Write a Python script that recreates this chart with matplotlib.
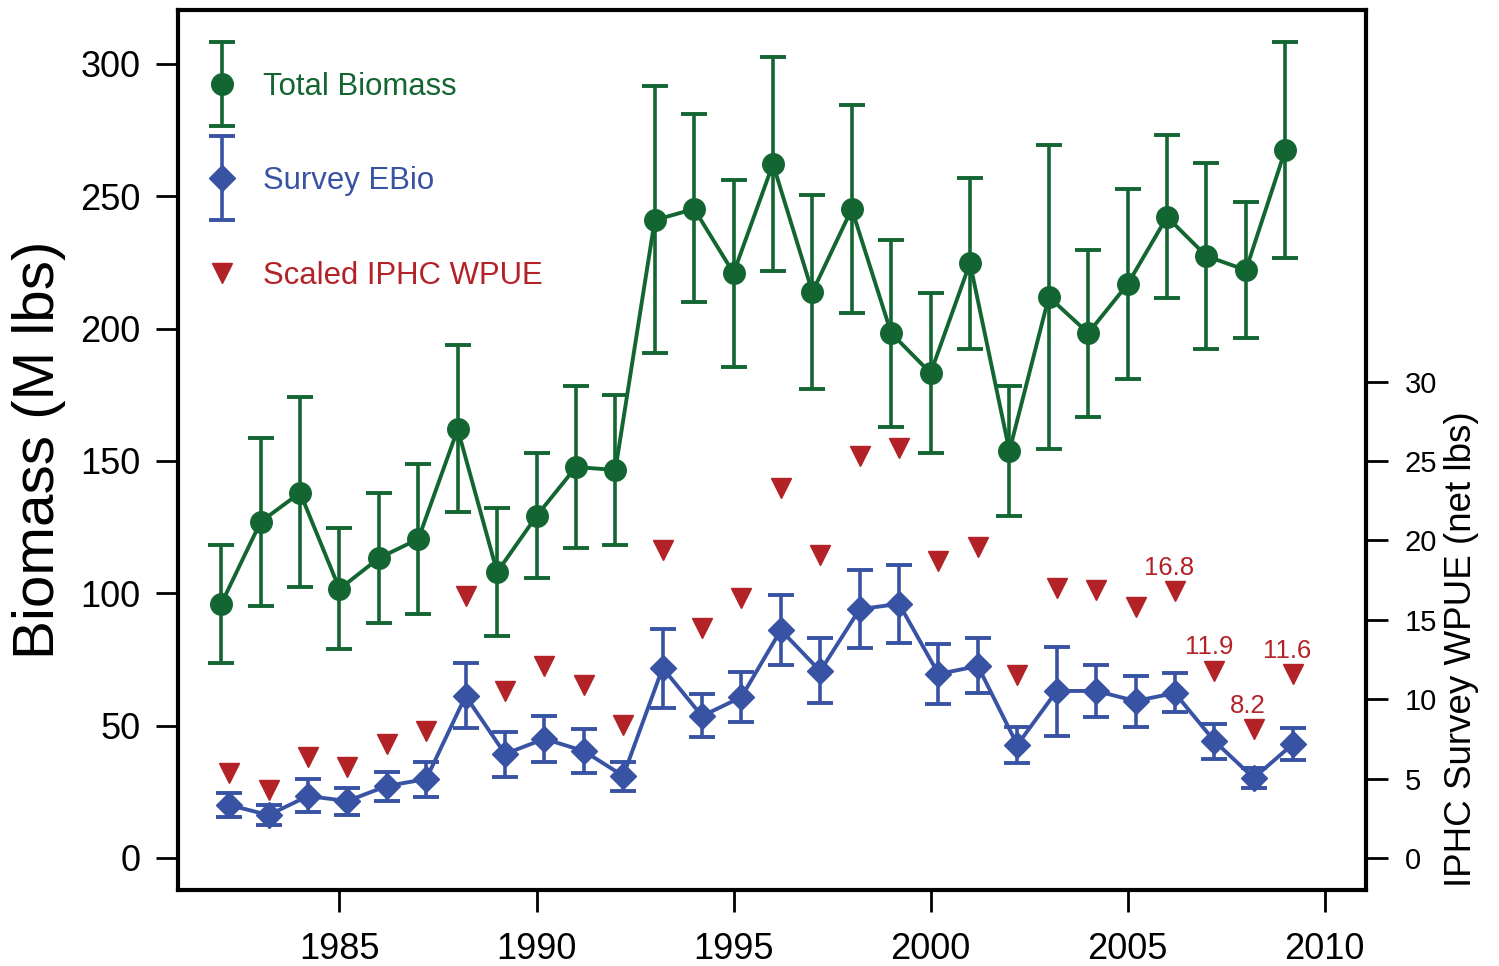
import matplotlib
matplotlib.use("Agg")
import matplotlib.pyplot as plt
from matplotlib.container import ErrorbarContainer
from matplotlib.legend_handler import HandlerErrorbar
import numpy as np

plt.rcParams['font.family'] = ['Liberation Sans', 'DejaVu Sans']

years = [1982, 1983, 1984, 1985, 1986, 1987, 1988, 1989, 1990, 1991,
         1992, 1993, 1994, 1995, 1996, 1997, 1998, 1999, 2000, 2001,
         2002, 2003, 2004, 2005, 2006, 2007, 2008, 2009]

total_biomass = [96, 127, 138, 101.6, 113.3, 120.5, 162, 108, 129.2, 147.7,
                 146.6, 241, 245.2, 221, 262.2, 213.8, 245.2, 198.3, 183.2, 224.8,
                 153.8, 212, 198.3, 216.8, 242.2, 227.4, 222.1, 267.5]
total_upper = [118.2, 158.7, 174.2, 124.7, 137.9, 148.8, 193.8, 132.2, 153, 178.3,
               174.9, 291.6, 281, 256, 302.6, 250.5, 284.5, 233.5, 213.5, 256.9,
               178.3, 269.4, 229.7, 252.7, 273.1, 262.6, 247.8, 308.3]
total_lower = [73.7, 95.2, 102.4, 79, 88.8, 92.2, 130.7, 83.9, 105.8, 117.1,
               118.2, 190.8, 210, 185.5, 221.8, 177.2, 205.9, 162.8, 153, 192.3,
               129.2, 154.5, 166.6, 181, 211.6, 192.3, 196.4, 226.7]

survey_ebio = [20, 16.2, 23.4, 21.5, 27.2, 29.8, 61.2, 39.3, 45, 40.4,
               31, 71.8, 53.6, 60.8, 86.1, 70.6, 94, 96, 69.5, 72.5,
               42.7, 63.1, 63.1, 59.3, 62.3, 44.2, 30.2, 43.1]
survey_upper = [24.6, 20, 29.8, 26.4, 32.5, 36.3, 73.7, 47.6, 53.6, 48.7,
                36.3, 86.5, 61.8, 70.1, 99.4, 83.1, 108.8, 110.6, 80.9, 83.1,
                49.5, 79.7, 72.9, 68.7, 69.8, 50.6, 34, 49.1]
survey_lower = [15.5, 12.5, 17.4, 16.3, 21.5, 23.1, 49.1, 30.6, 36.3, 32.1,
                25.3, 56.7, 45.7, 51.4, 73, 58.6, 79.3, 81.2, 58.2, 62.3,
                35.9, 46.1, 53.2, 49.5, 55, 37.4, 26.4, 37]

iphc_wpue = [5.35, 4.3, 6.35, 5.7, 7.2, 8.0, 16.5, 10.5, 12.1, 10.9,
             8.4, 19.4, 14.5, 16.4, 23.3, 19.1, 25.3, 25.8, 18.7, 19.6,
             11.5, 17.0, 16.9, 15.8, 16.8, 11.8, 8.1, 11.6]

label_years = [2006, 2007, 2008, 2009]
label_values = [16.8, 11.8, 8.1, 11.6]
label_texts = ["16.8", "11.9", "8.2", "11.6"]

xticks = [1985, 1990, 1995, 2000, 2005, 2010]
left_ticks = [0, 50, 100, 150, 200, 250, 300]
right_ticks = [0, 5, 10, 15, 20, 25, 30]

green = '#136632'
blue = '#3953A4'
red = '#B22227'
offset = 0.2

fig = plt.figure(figsize=(14.99, 9.66), dpi=100)
ax = fig.add_axes([0.1187, 0.0787, 0.7926, 0.911])
ax2 = ax.twinx()

yrs = np.array(years, dtype=float)
tb = np.array(total_biomass)
se = np.array(survey_ebio)

h_tot = ax.errorbar(yrs, tb,
                    yerr=[tb - np.array(total_lower), np.array(total_upper) - tb],
                    fmt='-o', color=green, lw=2.8, ms=15.5, elinewidth=2.6,
                    capsize=9.5, capthick=2.8, label='Total Biomass', zorder=3)
h_srv = ax.errorbar(yrs + offset, se,
                    yerr=[se - np.array(survey_lower), np.array(survey_upper) - se],
                    fmt='-D', color=blue, lw=2.8, ms=13.5, elinewidth=2.6,
                    capsize=9.5, capthick=2.8, label='Survey EBio', zorder=3)
h_iphc, = ax2.plot(yrs + offset, iphc_wpue, linestyle='none', marker='v',
                   color=red, ms=14.5, label='Scaled IPHC WPUE', zorder=3)

for yr, v, t in zip(label_years, label_values, label_texts):
    ax2.annotate(t, xy=(yr + offset, v), xytext=(-4, 8), textcoords='offset points',
                 ha='center', va='bottom', color=red, fontsize=18.5)

ax.set_xlim(1980.9, 2011.05)
ax.set_ylim(-12.1, 320.4)
ax2.set_ylim(-12.1 / 6, 320.4 / 6)

ax.set_xticks(xticks)
ax.set_yticks(left_ticks)
ax2.set_yticks(right_ticks)

for s in ax.spines.values():
    s.set_linewidth(3)
    s.set_color('black')
for s in ax2.spines.values():
    s.set_visible(False)

ax.tick_params(axis='x', direction='out', length=16, width=2, labelsize=26, pad=14, top=False)
ax.tick_params(axis='y', direction='out', length=16, width=2, labelsize=26, pad=11, right=False)
ax2.tick_params(axis='y', direction='out', length=16, width=2, labelsize=21, pad=12)

ax.set_ylabel('Biomass (M lbs)', fontsize=42, labelpad=10)
ax2.set_ylabel('IPHC Survey WPUE (net lbs)', fontsize=26.5)
ax2.yaxis.set_label_coords(1.066, 0.274)

leg = ax.legend([h_tot, h_srv, h_iphc], ['Total Biomass', 'Survey EBio', 'Scaled IPHC WPUE'],
                handler_map={ErrorbarContainer: HandlerErrorbar(yerr_size=1.35)},
                loc='upper left', bbox_to_anchor=(0.0295, 0.9295), frameon=False,
                fontsize=22.4, handlelength=0.6, handleheight=0.77, labelspacing=2.07,
                handletextpad=1.0, borderpad=0, borderaxespad=0, numpoints=1)
for txt, c in zip(leg.get_texts(), [green, blue, red]):
    txt.set_color(c)
ax.set_zorder(ax2.get_zorder() + 1)
ax.patch.set_visible(False)

fig.savefig('out.png', dpi=100)
